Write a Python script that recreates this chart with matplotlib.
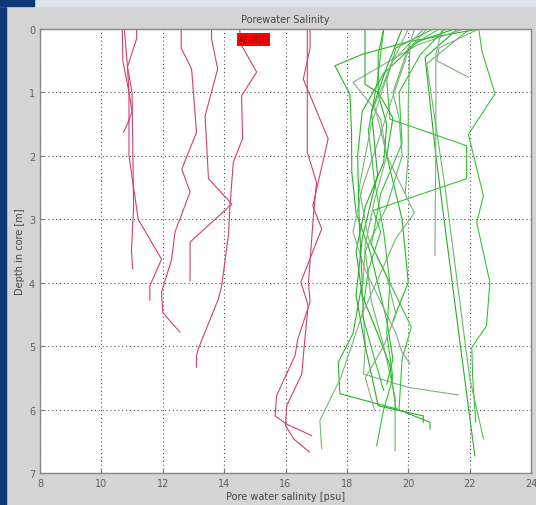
import matplotlib.pyplot as plt
from matplotlib.patches import Rectangle

W, H = 536, 506

# red cores (salinity, depth)
red_s = [
    [10.68, 10.7, 10.9, 11.0, 10.85, 10.72],
    [10.75, 10.85, 11.0, 11.05, 10.98, 11.02],
    [11.15, 11.15, 10.85, 10.9, 10.9, 11.2, 11.96, 11.58, 11.58],
    [12.6, 12.6, 12.94, 13.1, 12.62, 12.89, 12.4, 12.29, 11.96, 12.0, 12.56],
    [13.59, 13.59, 13.79, 13.38, 13.49, 14.25, 12.89, 12.89],
    [14.5, 14.57, 15.06, 14.57, 14.6, 14.3, 14.19, 14.14, 13.92, 13.81, 13.16, 13.1, 13.1],
    [16.8, 16.8, 16.58, 17.39, 16.89, 17.18, 16.5, 16.74, 16.63, 16.53, 16.04, 16.0, 16.26, 16.78],
    [16.71, 16.71, 17.01, 16.9, 16.75, 16.8, 16.4, 16.31, 15.71, 15.66, 16.04, 16.85],
]
red_d = [
    [0.0, 0.5, 1.0, 1.3, 1.5, 1.63],
    [0.0, 0.6, 1.0, 2.8, 3.5, 3.78],
    [0.0, 0.15, 0.6, 1.0, 2.0, 3.0, 3.63, 4.05, 4.28],
    [0.0, 0.3, 0.63, 1.63, 2.21, 2.57, 3.2, 3.63, 4.15, 4.47, 4.78],
    [0.0, 0.15, 0.63, 1.37, 2.36, 2.76, 3.36, 3.97],
    [0.0, 0.26, 0.68, 1.05, 1.73, 2.1, 2.79, 3.25, 4.05, 4.26, 5.04, 5.15, 5.33],
    [0.0, 0.3, 0.79, 1.73, 2.79, 3.15, 3.99, 4.36, 4.89, 5.44, 5.94, 6.25, 6.46, 6.67],
    [0.0, 1.94, 2.42, 3.0, 4.0, 4.3, 4.89, 5.15, 5.78, 6.1, 6.23, 6.41],
]

# green cores (salinity, depth)
green_s = [
    [22.3, 22.4, 22.83, 21.96, 22.45, 22.23, 22.66, 22.55, 22.07, 22.1, 22.2],
    [21.6, 20.55, 20.9, 21.3, 21.7, 22.17],
    [22.0, 20.6, 21.2, 21.6, 22.0, 22.45],
    [21.1, 20.9, 20.9, 20.87],
    [22.3, 20.0, 18.5, 17.61, 18.1, 18.15, 18.16, 18.3, 18.75, 19.0, 19.3, 19.5, 19.3],
    [21.8, 20.3, 18.2, 18.8, 19.1, 19.3, 18.9, 18.6, 18.5, 18.6, 18.54, 20.0, 21.63],
    [20.8, 19.6, 19.3, 19.4, 21.9, 21.9, 18.86, 19.1, 18.7, 18.5, 18.9, 19.2],
    [18.59, 18.59, 19.0, 19.3, 19.2, 18.6, 18.3, 18.5, 19.0, 19.4, 19.6],
    [21.0, 20.0, 19.5, 19.7, 19.8, 19.3, 18.6, 18.8, 19.2, 19.57, 19.57],
    [20.2, 19.9, 19.4, 19.0, 18.5, 18.2, 18.6, 19.1, 19.6, 19.8, 20.06],
    [21.5, 20.3, 19.2, 18.5, 18.35, 18.4, 18.5, 18.2, 17.72, 17.77, 19.62, 20.71, 20.71],
    [20.5, 19.5, 18.9, 19.3, 20.2, 19.6, 18.5, 17.8, 17.12, 17.18],
    [19.2, 19.0, 18.7, 18.9, 19.2, 19.4, 19.3, 19.5, 19.2, 18.97],
    [19.8, 19.3, 18.8, 19.0, 18.5, 18.3, 18.6, 19.02, 20.49, 20.49],
    [20.6, 20.05, 20.0, 20.0, 19.9],
    [22.3, 21.0, 20.93, 21.96],
    [19.2, 19.02, 19.02, 19.5, 19.3, 19.8, 20.0, 19.5],
    [20.0, 19.4, 18.8, 18.4, 18.7, 19.3, 19.6, 19.2, 18.6, 18.9],
    [21.2, 20.4, 19.7, 19.8, 19.1, 18.8, 19.4, 20.1, 19.8, 19.7],
]
green_d = [
    [0.0, 0.35, 1.02, 1.66, 2.63, 3.05, 3.99, 4.68, 5.02, 5.5, 6.2],
    [0.0, 0.45, 2.0, 3.5, 5.0, 6.73],
    [0.0, 0.55, 2.5, 4.0, 5.5, 6.46],
    [0.0, 0.4, 1.5, 3.57],
    [0.0, 0.2, 0.4, 0.58, 1.03, 1.6, 2.26, 2.9, 3.5, 4.0, 4.6, 5.2, 5.6],
    [0.0, 0.25, 0.84, 1.2, 1.42, 2.0, 2.7, 3.4, 4.2, 5.0, 5.44, 5.65, 5.77],
    [0.0, 0.3, 0.8, 1.42, 1.84, 2.36, 2.86, 3.2, 3.8, 4.5, 5.2, 5.7],
    [0.0, 0.87, 1.0, 1.5, 2.1, 2.8, 3.5, 4.2, 4.8, 5.3, 6.0],
    [0.0, 0.3, 1.0, 1.4, 2.0, 2.8, 3.5, 4.3, 5.0, 5.8, 6.65],
    [0.0, 0.5, 1.2, 1.8, 2.5, 3.2, 3.8, 4.3, 4.8, 5.1, 5.28],
    [0.0, 0.2, 0.7, 1.3, 2.0, 3.0, 4.0, 4.8, 5.25, 5.75, 5.99, 6.2, 6.31],
    [0.0, 0.5, 1.2, 2.0, 2.9, 3.3, 4.5, 5.5, 6.17, 6.62],
    [0.0, 0.8, 1.6, 2.4, 3.2, 4.0, 4.8, 5.5, 6.0, 6.57],
    [0.0, 0.6, 1.3, 2.3, 3.3, 4.2, 5.0, 5.94, 6.1, 6.2],
    [0.0, 0.3, 1.2, 2.0, 2.6],
    [0.0, 0.3, 0.5, 0.76],
    [0.0, 0.4, 1.0, 1.4, 2.0, 3.0, 4.0, 4.6],
    [0.0, 0.6, 1.5, 2.5, 3.3, 3.9, 4.5, 5.0, 5.5, 6.0],
    [0.0, 0.4, 1.0, 1.8, 2.6, 3.4, 4.0, 4.7, 5.2, 6.0],
]

x_ticks = [8, 10, 12, 14, 16, 18, 20, 22, 24]
y_ticks = [0, 1, 2, 3, 4, 5, 6, 7]
greens = ['#33c433', '#2aaa2a', '#5cbf5c', '#8aa88a', '#22b822', '#7db37d']

fig = plt.figure(figsize=(W / 100, H / 100), dpi=100, facecolor='#d4d4d4')

# page decoration: blue margin strips
fig.patches.append(Rectangle((0, 0), 6 / W, 1, transform=fig.transFigure,
                             color='#0d3a76', zorder=0))
fig.patches.append(Rectangle((0, 1 - 7 / H), 1, 7 / H, transform=fig.transFigure,
                             color='#dfe4ec', zorder=0))
fig.patches.append(Rectangle((0, 1 - 7 / H), 34 / W, 7 / H, transform=fig.transFigure,
                             color='#0d3a76', zorder=0))

ax = fig.add_axes([40 / W, (H - 474) / H, 491 / W, 444 / H])
ax.set_facecolor('white')

for s, d in zip(red_s, red_d):
    ax.plot(s, d, color='#d0406a', lw=0.8)
for i, (s, d) in enumerate(zip(green_s, green_d)):
    ax.plot(s, d, color=greens[i % len(greens)], lw=0.8)

ax.set_xlim(8, 24)
ax.set_ylim(7, 0)
ax.set_xticks(x_ticks)
ax.set_yticks(y_ticks)
ax.grid(True, color='#555555', linestyle=(0, (1, 2.5)), lw=0.8)
ax.tick_params(direction='in', length=3, color='#777777', labelcolor='#606060',
               labelsize=7)
for sp in ax.spines.values():
    sp.set_color('#888888')
    sp.set_linewidth(1.0)

ax.text(14.95, 0.17, 'AE-M10', color='#9a0000', fontsize=5.5, ha='center', va='center',
        bbox=dict(boxstyle='square,pad=0.25', fc='#ff0000', ec='none'))

ax.set_title('Porewater Salinity', fontsize=7, color='#444444', pad=5)
ax.set_xlabel('Pore water salinity [psu]', fontsize=7, color='#444444', labelpad=2)
ax.set_ylabel('Depth in core [m]', fontsize=7, color='#444444', labelpad=3)

fig.savefig('out.png', dpi=100, facecolor=fig.get_facecolor())
